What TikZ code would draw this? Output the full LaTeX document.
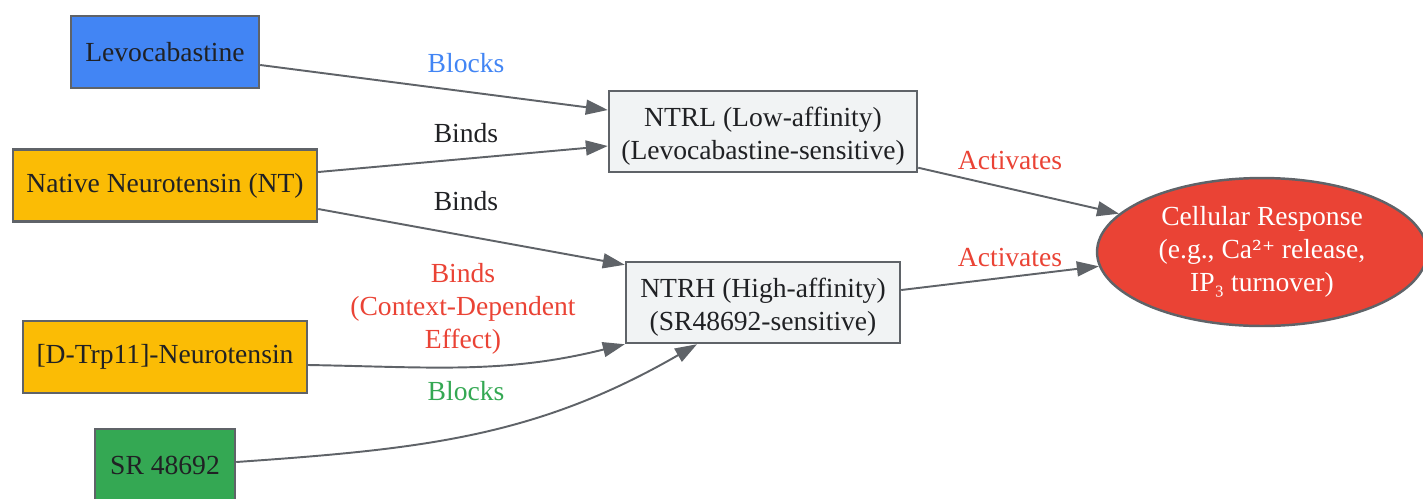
\documentclass[tikz,border=0pt]{standalone}
\usepackage{fontspec}
\setmainfont{Liberation Serif}
\newfontfamily\supfont{DejaVu Serif}
\usetikzlibrary{positioning}
\usetikzlibrary{arrows.meta}
\usetikzlibrary{calc}
\usetikzlibrary{shapes.geometric}
\definecolor{gblue}{HTML}{4285F4}
\definecolor{gyellow}{HTML}{FBBC05}
\definecolor{ggreen}{HTML}{34A853}
\definecolor{gred}{HTML}{EA4335}
\definecolor{ggray}{HTML}{5F6368}
\definecolor{glight}{HTML}{F1F3F4}
\definecolor{gtext}{HTML}{202124}
\newcommand{\tallline}{\rule{0pt}{16.6pt}}
\tikzset{>={Triangle[length=12.5pt,width=8.5pt]}}
\tikzset{box/.style={draw=ggray, line width=1.4pt, rectangle, inner sep=0pt, align=center, text=gtext, minimum height=1.44cm}}
\tikzset{rcpt/.style={box, fill=glight, minimum height=1.62cm}}
\tikzset{ed/.style={->, draw=ggray, line width=1.1pt}}
\tikzset{lbl/.style={align=center, inner sep=0pt}}

\begin{document}
\begin{tikzpicture}[x=0.02cm, y=-0.02cm, font=\fontsize{15.7}{18.7}\selectfont]
\useasboundingbox (0,0) rectangle (1423,498);

%%% Ligands:

\node[box, fill=gblue, minimum width=3.76cm] (levo) at (165, 52) {Levocabastine};
\node[box, fill=gyellow, minimum width=6.08cm] (nt) at (165, 185.5) {Native Neurotensin (NT)};
\node[box, fill=gyellow, minimum width=5.68cm] (dtrp) at (165, 357) {[D-Trp11]-Neurotensin};
\node[box, fill=ggreen, minimum width=2.8cm] (sr) at (165, 465) {SR 48692};

%%% Receptors:

\node[rcpt, minimum width=6.16cm] (ntrl) at (763, 131.5) {\tallline NTRL (Low-affinity)\\(Levocabastine-sensitive)};
\node[rcpt, minimum width=5.48cm] (ntrh) at (763, 302.5) {\tallline NTRH (High-affinity)\\(SR48692-sensitive)};

\node[ellipse, draw=ggray, line width=1.4pt, fill=gred, text=white, align=center,
      minimum width=6.6cm, minimum height=2.96cm, inner sep=0pt] (resp) at (1262, 252)
      {Cellular Response\\(e.g., Ca{\supfont\fontsize{14}{16}\selectfont ²⁺} release,\\IP₃ turnover)};

%%% Edges:

\draw[ed] ([yshift=-0.26cm]levo.east) -- ([yshift=0.43cm]ntrl.west);
\draw[ed] ([yshift=0.27cm]nt.east) -- ([yshift=-0.29cm]ntrl.west);
\draw[ed] ([yshift=-0.47cm]nt.east) -- ([yshift=-0.08cm]ntrh.north west);
\draw[ed] ([yshift=-0.16cm]dtrp.east) to[out=-1, in=194] (ntrh.south west);
\draw[ed] ([yshift=0.06cm]sr.east) to[out=4, in=210] ([xshift=-1.32cm]ntrh.south);
\draw[ed] ([yshift=0.11cm]ntrl.south east) -- (resp.165);
\draw[ed] ([yshift=0.25cm]ntrh.east) -- (resp.185);

\node[lbl, text=gblue] (l1) at (466, 63) {Blocks};
\node[lbl, text=gtext] (l2) at (466, 133) {Binds};
\node[lbl, text=gtext] (l3) at (466, 201) {Binds};
\node[lbl, text=gred] (l4) at (463, 309) {Binds\\(Context-Dependent\\Effect)};
\node[lbl, text=ggreen] (l5) at (466, 391) {Blocks};
\node[lbl, text=gred] (l6) at (1010, 160) {Activates};
\node[lbl, text=gred] (l7) at (1010, 257) {Activates};

\end{tikzpicture}
\end{document}
